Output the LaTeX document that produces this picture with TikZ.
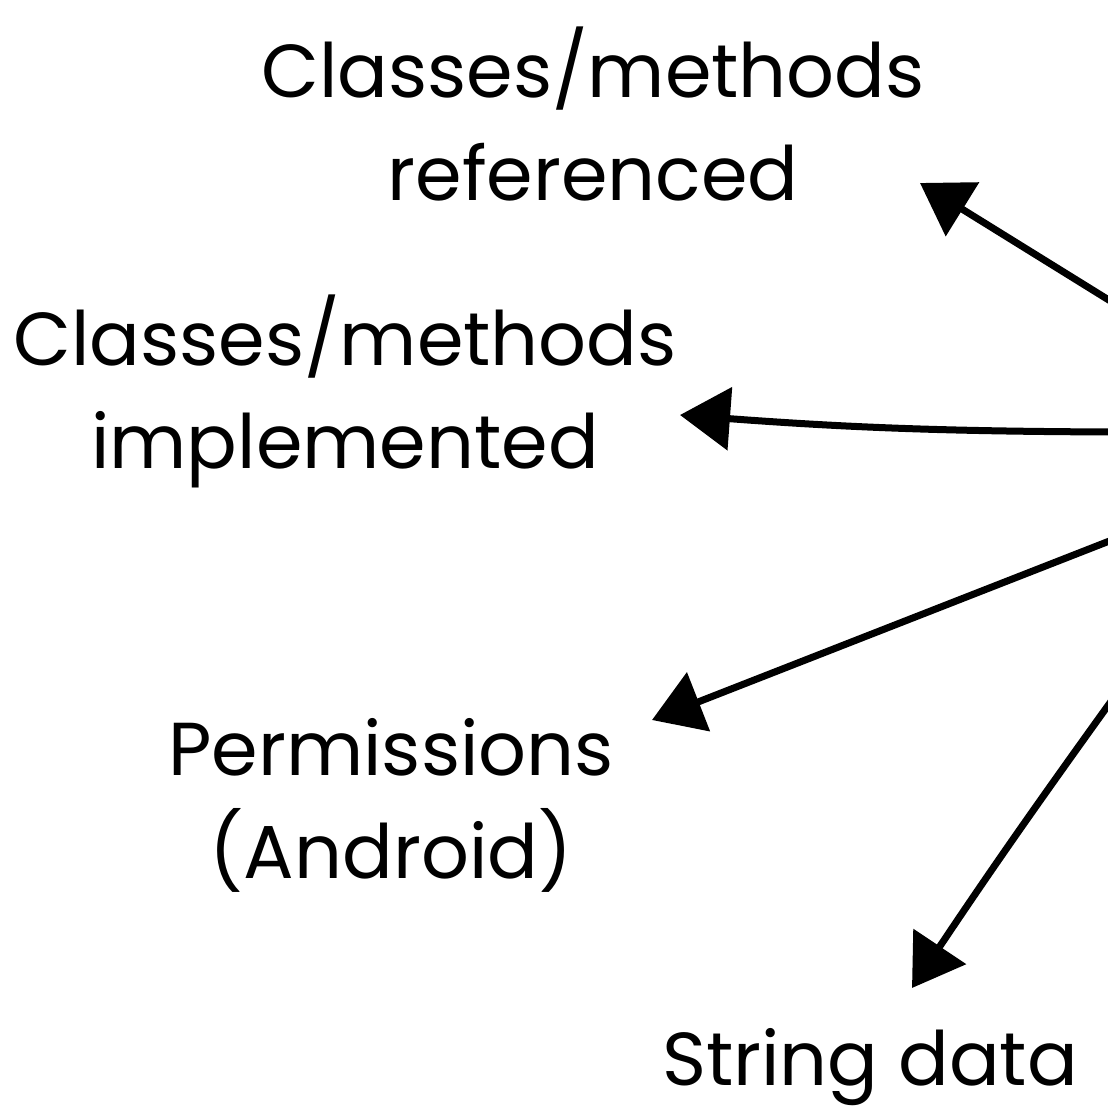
\documentclass[tikz,border=0pt]{standalone}
\usepackage{fontspec}
\setmainfont{Poppins}
\usetikzlibrary{arrows.meta}
\begin{document}
\begin{tikzpicture}[x=1pt,y=-1pt,
  lbl/.style={font=\fontsize{75}{103}\selectfont, align=center, inner sep=0pt, anchor=base},
  arr/.style={line width=7pt, line cap=round, -{Triangle[length=50pt,width=62pt]}}]
\useasboundingbox (0,0) rectangle (1108,1111);

% labels (anchored on the baseline of their last line)
\node[lbl] (ref)  at (593,200)  {Classes/methods\\referenced};
\node[lbl] (impl) at (345,468)  {Classes/methods\\implemented};
\node[lbl] (perm) at (391,878)  {Permissions\\(Android)};
\node[lbl] (str)  at (870,1085) {String data};

% arrow ends
\coordinate (s1) at (1112,302);
\coordinate (t1) at (920,183);
\coordinate (s2) at (1112,432);
\coordinate (t2) at (680,415);
\coordinate (s3) at (1112,540);
\coordinate (t3) at (652,720);
\coordinate (s4) at (1112,700);
\coordinate (t4) at (912,988);

\draw[arr] (s1) -- (t1);
\draw[arr] (s2) to[bend left=2] (t2);
\draw[arr] (s3) -- (t3);
\draw[arr] (s4) to[bend right=1] (t4);
\end{tikzpicture}
\end{document}
